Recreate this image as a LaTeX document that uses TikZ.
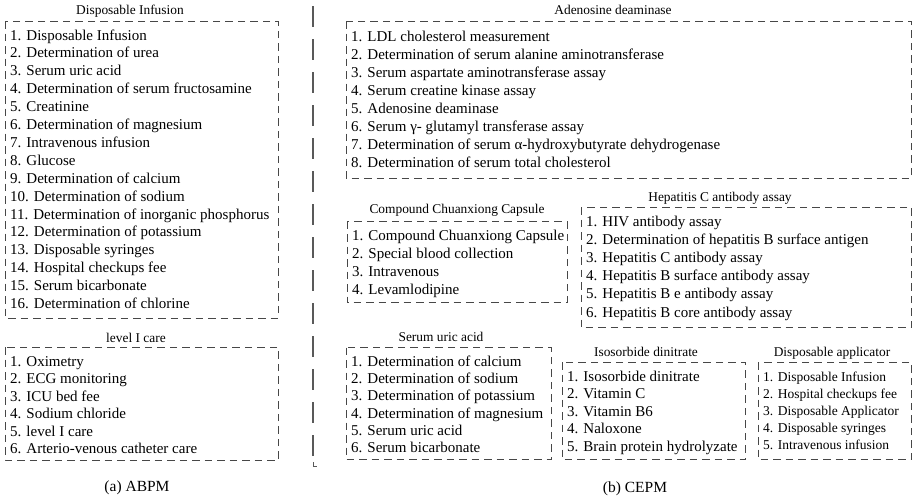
\documentclass[tikz,border=0pt]{standalone}
\usepackage{fontspec}
\setmainfont{Liberation Serif}
\begin{document}
\begin{tikzpicture}[x=1pt,y=-1pt]
\tikzset{
  boxline/.style={draw=black!72, line width=0.9pt, dash pattern=on 7.5pt off 5pt},
  divline/.style={draw=black!65, line width=1.3pt},
  item/.style={font=\fontsize{15}{18}\selectfont, anchor=base west, inner sep=0pt},
  smallitem/.style={font=\fontsize{13.5}{16}\selectfont, anchor=base west, inner sep=0pt},
  ttl/.style={font=\fontsize{13.4}{16}\selectfont, anchor=base, inner sep=0pt},
  capt/.style={font=\fontsize{15.5}{18}\selectfont, anchor=base, inner sep=0pt},
}
\useasboundingbox (0,0) rectangle (913,498);

% ---------------- (a) ABPM ----------------
\node[ttl] (t-di) at (130,14.5) {Disposable Infusion};
\coordinate (di-a) at (5,21); \coordinate (di-b) at (278,318);
\draw[boxline] (di-a) rectangle (di-b);
\foreach \t [count=\i] in {Disposable Infusion, Determination of urea, Serum uric acid,
  Determination of serum fructosamine, Creatinine, Determination of magnesium,
  Intravenous infusion, Glucose, Determination of calcium, Determination of sodium,
  Determination of inorganic phosphorus, Determination of potassium,
  Disposable syringes, Hospital checkups fee, Serum bicarbonate,
  Determination of chlorine}
  \node[item] (di-\i) at (10,{40+(\i-1)*17.9}) {\i. \t};

\node[ttl] (t-lc) at (136,342.5) {level I care};
\coordinate (lc-a) at (5,347); \coordinate (lc-b) at (278,460);
\draw[boxline] (lc-a) rectangle (lc-b);
\foreach \t [count=\i] in {Oximetry, ECG monitoring, ICU bed fee, Sodium chloride,
  level I care, Arterio-venous catheter care}
  \node[item] (lc-\i) at (10,{366.5+(\i-1)*17.4}) {\i. \t};

\node[capt] (cap-a) at (137,491) {(a) ABPM};

% ---------------- separator ----------------
\coordinate (sep-top) at (313,6);
\coordinate (sep-mid) at (313,458);
\coordinate (sep-low) at (313,462);
\coordinate (sep-bot) at (313,466);
\coordinate (sep-end) at (317,466);
\draw[divline, dash pattern=on 21pt off 12pt] (sep-top) -- (sep-mid);
\draw[divline, line width=1pt] (sep-low) -- (sep-bot) -- (sep-end);

% ---------------- (b) CEPM ----------------
\node[ttl] (t-ad) at (613,14.5) {Adenosine deaminase};
\coordinate (ad-a) at (346,21); \coordinate (ad-b) at (911,178);
\draw[boxline] (ad-a) rectangle (ad-b);
\foreach \t [count=\i] in {LDL cholesterol measurement,
  Determination of serum alanine aminotransferase,
  Serum aspartate aminotransferase assay, Serum creatine kinase assay,
  Adenosine deaminase, Serum γ- glutamyl transferase assay,
  Determination of serum α-hydroxybutyrate dehydrogenase,
  Determination of serum total cholesterol}
  \node[item] (ad-\i) at (351,{41.5+(\i-1)*18}) {\i. \t};

\node[ttl] (t-cc) at (457,213.5) {Compound Chuanxiong Capsule};
\coordinate (cc-a) at (347,221.5); \coordinate (cc-b) at (567,302.5);
\draw[boxline] (cc-a) rectangle (cc-b);
\foreach \t [count=\i] in {Compound Chuanxiong Capsule, Special blood collection,
  Intravenous, Levamlodipine}
  \node[item] (cc-\i) at (352,{240+(\i-1)*18.1}) {\i. \t};

\node[ttl] (t-hc) at (720,201) {Hepatitis C antibody assay};
\coordinate (hc-a) at (581,207); \coordinate (hc-b) at (911,327.5);
\draw[boxline] (hc-a) rectangle (hc-b);
\foreach \t [count=\i] in {HIV antibody assay,
  Determination of hepatitis B surface antigen, Hepatitis C antibody assay,
  Hepatitis B surface antibody assay, Hepatitis B e antibody assay,
  Hepatitis B core antibody assay}
  \node[item] (hc-\i) at (586,{226.5+(\i-1)*18.1}) {\i. \t};

\node[ttl] (t-su) at (441,341.5) {Serum uric acid};
\coordinate (su-a) at (346,347.5); \coordinate (su-b) at (551,459.5);
\draw[boxline] (su-a) rectangle (su-b);
\foreach \t [count=\i] in {Determination of calcium, Determination of sodium,
  Determination of potassium, Determination of magnesium, Serum uric acid,
  Serum bicarbonate}
  \node[item] (su-\i) at (351,{366.5+(\i-1)*17.2}) {\i. \t};

\node[ttl] (t-is) at (646,356.5) {Isosorbide dinitrate};
\coordinate (is-a) at (562,362); \coordinate (is-b) at (745,459.5);
\draw[boxline] (is-a) rectangle (is-b);
\foreach \t [count=\i] in {Isosorbide dinitrate, Vitamin C, Vitamin B6, Naloxone,
  Brain protein hydrolyzate}
  \node[item] (is-\i) at (567,{381+(\i-1)*17.6}) {\i. \t};

\node[ttl] (t-ap) at (832,356.5) {Disposable applicator};
\coordinate (ap-a) at (758,362); \coordinate (ap-b) at (911,459.5);
\draw[boxline] (ap-a) rectangle (ap-b);
\foreach \t [count=\i] in {Disposable Infusion, Hospital checkups fee,
  Disposable Applicator, Disposable syringes, Intravenous infusion}
  \node[smallitem] (ap-\i) at (763,{381.5+(\i-1)*17}) {\i. \t};

\node[capt] (cap-b) at (635,492) {(b) CEPM};
\end{tikzpicture}
\end{document}
